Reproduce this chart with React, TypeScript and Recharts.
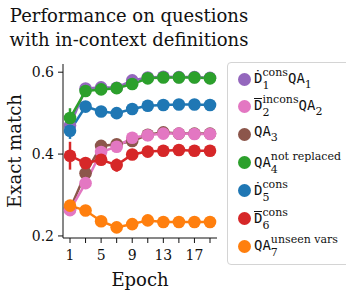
import React from 'react'
import { LineChart, Line, XAxis, YAxis, ErrorBar } from 'recharts'

const epochs = [1, 3, 5, 7, 9, 11, 13, 15, 17, 19]
const xTicks = [1, 3, 5, 7, 9, 11, 13, 15, 17, 19]
const xLabeled = [1, 5, 9, 13, 17]
const yTicks = [0.2, 0.4, 0.6]

const qa1 = [0.470, 0.560, 0.563, 0.562, 0.580, 0.587, 0.589, 0.588, 0.588, 0.586]
const qa2 = [0.263, 0.329, 0.405, 0.418, 0.440, 0.446, 0.450, 0.450, 0.449, 0.449]
const qa3 = [0.266, 0.353, 0.420, 0.424, 0.432, 0.447, 0.453, 0.450, 0.450, 0.450]
const qa4 = [0.488, 0.554, 0.558, 0.561, 0.571, 0.585, 0.587, 0.587, 0.587, 0.585]
const qa5 = [0.457, 0.516, 0.504, 0.500, 0.510, 0.518, 0.520, 0.521, 0.521, 0.520]
const qa6 = [0.396, 0.378, 0.386, 0.373, 0.399, 0.406, 0.408, 0.410, 0.408, 0.408]
const qa7 = [0.274, 0.262, 0.236, 0.221, 0.229, 0.238, 0.234, 0.234, 0.234, 0.234]

const qa4Err = [0.024, 0.006, 0.004, 0.004, 0.004, 0.003, 0.003, 0.003, 0.003, 0.003]
const qa5Err = [0.02, 0.005, 0.004, 0.004, 0.004, 0.003, 0.003, 0.003, 0.003, 0.003]
const qa6Err = [0.034, 0.01, 0.012, 0.016, 0.006, 0.004, 0.004, 0.004, 0.004, 0.004]

const series = [
  { key: 'qa1', values: qa1, color: '#9467bd' },
  { key: 'qa3', values: qa3, color: '#8c564b' },
  { key: 'qa2', values: qa2, color: '#e377c2' },
  { key: 'qa4', values: qa4, color: '#2ca02c', err: qa4Err },
  { key: 'qa5', values: qa5, color: '#1f77b4', err: qa5Err },
  { key: 'qa6', values: qa6, color: '#d62728', err: qa6Err },
  { key: 'qa7', values: qa7, color: '#ff7f0e' },
]

const data = epochs.map((epoch, i) => {
  const row: Record<string, number> = { epoch }
  series.forEach((s) => {
    row[s.key] = s.values[i]
    if (s.err) row[s.key + 'Err'] = s.err[i]
  })
  return row
})

const serif = "'DejaVu Serif', serif"
const mono = "'DejaVu Sans Mono', monospace"

function Bar({ children }: { children: React.ReactNode }) {
  return (
    <span style={{ position: 'relative', display: 'inline-block' }}>
      {children}
      <span style={{ position: 'absolute', left: 0, right: 0, top: 1, borderTop: '1.3px solid #111' }} />
    </span>
  )
}

// stacked super/subscript like TeX's X_a^b
function Scripts({ sup, sub }: { sup?: string; sub: string }) {
  if (!sup) {
    return <span style={{ fontFamily: serif, fontSize: 11, verticalAlign: -5 }}>{sub}</span>
  }
  return (
    <span
      style={{
        display: 'inline-flex',
        flexDirection: 'column',
        fontFamily: serif,
        fontSize: 11,
        lineHeight: '13px',
        verticalAlign: 7,
      }}
    >
      <span>{sup}</span>
      <span>{sub}</span>
    </span>
  )
}

const legendItems = [
  { color: '#9467bd', label: <><span>Ḋ</span><Scripts sup="cons" sub="1" /><span>QA</span><Scripts sub="1" /></> },
  { color: '#e377c2', label: <><Bar>D</Bar><Scripts sup="incons" sub="2" /><span>QA</span><Scripts sub="2" /></> },
  { color: '#8c564b', label: <><span>QA</span><Scripts sub="3" /></> },
  { color: '#2ca02c', label: <><span>QA</span><Scripts sup="not replaced" sub="4" /></> },
  { color: '#1f77b4', label: <><span>Ḋ</span><Scripts sup="cons" sub="5" /></> },
  { color: '#d62728', label: <><Bar>D</Bar><Scripts sup="cons" sub="6" /></> },
  { color: '#ff7f0e', label: <><span>QA</span><Scripts sup="unseen vars" sub="7" /></> },
]

export default function App() {
  return (
    <div style={{ position: 'absolute', left: 0, top: 0, width: 346, height: 290, background: '#fff', overflow: 'hidden' }}>
      <div style={{ position: 'absolute', left: 6, top: 4, width: 246, fontFamily: serif, fontSize: 18, lineHeight: '24px', color: '#111', textAlign: 'center' }}>
        Performance on questions
        <br />
        with in-context definitions
      </div>
      <div
        style={{
          position: 'absolute',
          left: 14,
          top: 151,
          transform: 'translate(-50%, -50%) rotate(-90deg)',
          fontFamily: serif,
          fontSize: 18,
          whiteSpace: 'nowrap',
          color: '#111',
        }}
      >
        Exact match
      </div>
      <div style={{ position: 'absolute', left: 140, top: 279, transform: 'translate(-50%, -50%)', fontFamily: serif, fontSize: 18, color: '#111' }}>
        Epoch
      </div>
      <LineChart width={346} height={290} data={data} margin={{ top: 64, right: 129, bottom: 22, left: 23 }}>
        <XAxis
          dataKey="epoch"
          type="number"
          domain={[0.1, 19.9]}
          ticks={xTicks}
          interval={0}
          tickFormatter={(v: number) => (xLabeled.includes(v) ? String(v) : '')}
          tick={{ fontFamily: serif, fontSize: 14, fill: '#111' }}
          tickSize={5}
          tickMargin={7}
          stroke="#111"
          height={30}
        />
        <XAxis xAxisId="top" orientation="top" type="number" domain={[0.1, 19.9]} dataKey="epoch" tick={false} tickLine={false} height={0} stroke="#111" />
        <YAxis
          type="number"
          domain={[0.195, 0.62]}
          ticks={yTicks}
          tickFormatter={(v: number) => v.toFixed(1)}
          tick={{ fontFamily: serif, fontSize: 14, fill: '#111' }}
          tickSize={5}
          tickMargin={4}
          stroke="#111"
          width={40}
        />
        <YAxis yAxisId="right" orientation="right" type="number" domain={[0.195, 0.62]} tick={false} tickLine={false} width={0} stroke="#111" />
        {series.map((s) => (
          <Line
            key={s.key}
            dataKey={s.key}
            stroke={s.color}
            strokeWidth={2.5}
            dot={{ r: 6.3, fill: s.color, stroke: s.color, strokeWidth: 0 }}
            activeDot={false}
            isAnimationActive={false}
          >
            {s.err && <ErrorBar dataKey={s.key + 'Err'} direction="y" width={0} stroke={s.color} strokeWidth={2.5} />}
          </Line>
        ))}
      </LineChart>
      <div
        style={{
          position: 'absolute',
          left: 227,
          top: 62,
          width: 130,
          height: 203,
          border: '1px solid #d4d4d4',
          borderRadius: 4,
          background: '#fff',
          boxSizing: 'border-box',
        }}
      >
        {legendItems.map((item, i) => (
          <div key={i} style={{ position: 'absolute', left: 10, top: 8 + i * 27.9, height: 16, display: 'flex', alignItems: 'center', whiteSpace: 'nowrap' }}>
            <span style={{ width: 13, height: 13, borderRadius: '50%', background: item.color, display: 'inline-block', marginRight: 3 }} />
            <span style={{ fontFamily: mono, fontSize: 14, color: '#111', lineHeight: '16px' }}>{item.label}</span>
          </div>
        ))}
      </div>
    </div>
  )
}
